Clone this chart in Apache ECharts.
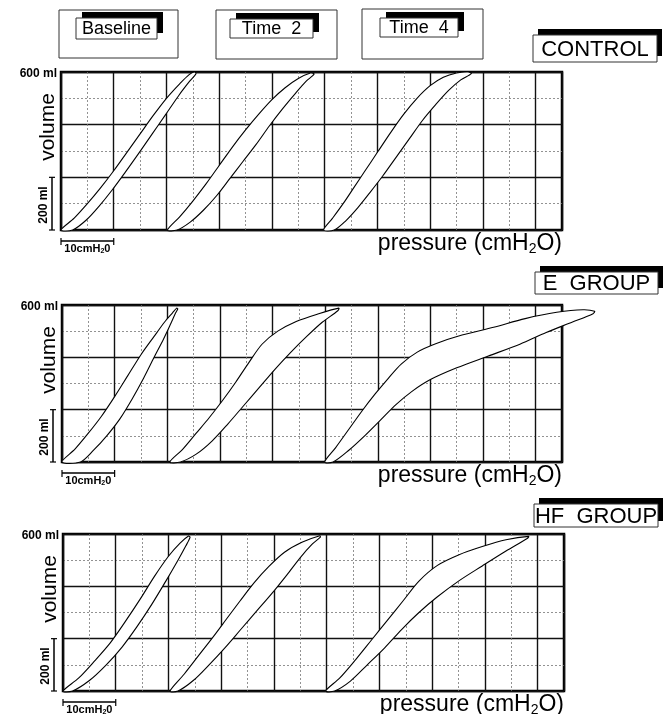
<!DOCTYPE html>
<html><head><meta charset="utf-8">
<script src="https://cdn.jsdelivr.net/npm/echarts@6/dist/echarts.min.js"></script>
<style>html,body{margin:0;padding:0;background:#fff}#c{width:671px;height:714px}</style>
</head><body><div id="c"></div><script>
// ---- labels ----
const groupLabels = ['CONTROL', 'E  GROUP', 'HF  GROUP'];
const timeLabels = ['Baseline', 'Time  2', 'Time  4'];
const pressureMax = 95;   // cmH2O (19 squares of 5)
const volumeMax = 600;    // ml
const pressureMinorStep = 5, pressureMajorStep = 10;
const volumeMajorStep = 200;

// ---- loops: [pressure cmH2O (plotted, incl. offset), volume ml]; each limb listed start -> tip ----
// CONTROL
const ctrlBaseInfl = [[2.2,0],[4.8,38],[7.2,90],[9.7,152],[12.2,220],[14.7,290],[17.2,362],[19.8,437],[22.3,510],[24.4,565],[25.6,593]];
const ctrlBaseDefl = [[0,0],[2.5,45],[5,100],[7.5,160],[10,225],[12.5,295],[15,365],[17.5,435],[20,500],[22.5,555],[24.3,590],[25.3,600]];
const ctrlT2Infl = [[22,0],[24.5,30],[27,75],[29.5,130],[32,195],[34.5,260],[37,325],[39.5,395],[42,460],[44.5,520],[46.5,565],[48,592]];
const ctrlT2Defl = [[20.2,0],[22.5,50],[25,110],[27.5,175],[30,245],[32.5,315],[35,380],[37.5,440],[40,495],[42.5,540],[45,575],[47.3,596]];
const ctrlT4Infl = [[51.8,0],[54,35],[56.3,85],[58.5,140],[61,205],[63.5,275],[66,345],[68.5,415],[71,475],[73.5,530],[75.8,570],[77.8,594]];
const ctrlT4Defl = [[49.8,0],[51.5,45],[53.5,100],[55.5,160],[57.5,220],[60,295],[62.5,370],[65,440],[67.5,500],[70,548],[72.5,580],[75,596],[77.2,600]];
// E GROUP
const eBaseInfl = [[3.5,0],[6,45],[8.5,100],[11,165],[13.3,240],[15.5,320],[17.5,400],[19.3,470],[20.7,530],[21.6,570],[22,585]];
const eBaseDefl = [[0,0],[2.5,50],[5,110],[7.5,175],[10,250],[12.5,330],[15,410],[17.5,480],[19.5,535],[21,570],[21.8,588]];
const eT2Infl = [[22.5,0],[25.5,30],[28.5,80],[31.5,145],[34.5,215],[37.5,285],[40.5,355],[43.5,420],[46.5,480],[49.5,535],[52.4,578]];
const eT2Defl = [[20.5,0],[23,50],[25.5,110],[28,170],[30.5,235],[33,305],[35.5,380],[38,450],[41,500],[44.5,537],[48.5,565],[52.6,588]];
const eT4Infl = [[51.5,0],[54.5,45],[57.5,100],[60.5,160],[63.5,220],[66.5,270],[70,315],[75,360],[81,405],[87,450],[92,495],[97,535],[100.9,567]];
const eT4Defl = [[49.9,0],[52,55],[54.5,125],[57,195],[59.5,260],[62,320],[64.5,375],[67.5,420],[71,452],[76,485],[82,515],[88,548],[94,572],[99,582],[101.2,576]];
// HF GROUP
const hfBaseInfl = [[1.8,0],[5,40],[8.2,100],[11.2,168],[14,245],[16.8,330],[19.5,420],[21.8,500],[23.3,555],[24.1,588]];
const hfBaseDefl = [[0,0],[3,50],[6,115],[9,185],[11.8,265],[14.6,350],[17.4,440],[20,515],[22.2,565],[23.8,592]];
const hfT2Infl = [[21.8,0],[24.7,40],[27.7,100],[30.7,165],[33.7,235],[36.7,305],[39.7,375],[42.5,445],[45,510],[47.2,560],[48.8,588]];
const hfT2Defl = [[20.3,0],[23,65],[25.7,135],[28.4,205],[31,275],[33.6,345],[36.3,415],[39,475],[42,530],[45.3,568],[48.7,593]];
const hfT4Infl = [[51.5,0],[54.5,38],[57.7,100],[61,165],[64.2,235],[67.5,300],[71,360],[75,420],[79.5,478],[84,535],[88.1,584]];
const hfT4Defl = [[49.8,0],[52.5,50],[55.5,120],[58.5,195],[61.5,270],[64.5,345],[67.5,420],[71,480],[75,520],[79.5,552],[84,578],[88.3,591]];

const panelLoops = [
  [[ctrlBaseInfl, ctrlBaseDefl], [ctrlT2Infl, ctrlT2Defl], [ctrlT4Infl, ctrlT4Defl]],
  [[eBaseInfl, eBaseDefl], [eT2Infl, eT2Defl], [eT4Infl, eT4Defl]],
  [[hfBaseInfl, hfBaseDefl], [hfT2Infl, hfT2Defl], [hfT4Infl, hfT4Defl]]
];

// ---- layout ----
const panels = [
  {left: 61, top: 72, w: 501, h: 158, label: {x: 533, y: 35, w: 124, h: 27}},
  {left: 62, top: 305, w: 500, h: 157, label: {x: 535, y: 272, w: 123, h: 22}},
  {left: 63, top: 534, w: 501, h: 157, label: {x: 534, y: 504, w: 124, h: 23}}
];
const headerBoxes = [
  {outer: [59, 10, 119, 48], white: [76, 18, 81, 21]},
  {outer: [216, 10, 121, 49], white: [230, 19, 83, 19]},
  {outer: [362, 9, 121, 50], white: [380, 18, 78, 19]}
];
const FONT = '"Liberation Sans", Arial, sans-serif';

const chart = echarts.init(document.getElementById('c'), null, {renderer: 'canvas'});
const grid = [], xAxis = [], yAxis = [], series = [], graphic = [];

panels.forEach((p, i) => {
  grid.push({left: p.left, top: p.top, width: p.w, height: p.h, show: true,
    borderColor: '#000', borderWidth: 2.5, backgroundColor: 'transparent'});
  const hidden = {axisLine: {show: false}, axisTick: {show: false}, axisLabel: {show: false}};
  xAxis.push(Object.assign({type: 'value', gridIndex: i, min: 0, max: pressureMax, interval: pressureMinorStep,
    splitLine: {show: true, lineStyle: {color: '#777', width: 0.8, type: [2, 2]}}}, hidden));
  xAxis.push(Object.assign({type: 'value', gridIndex: i, min: 0, max: pressureMax, interval: pressureMajorStep,
    splitLine: {show: true, lineStyle: {color: '#111', width: 1.4}}}, hidden));
  yAxis.push(Object.assign({type: 'value', gridIndex: i, min: 0, max: volumeMax, interval: volumeMajorStep,
    splitLine: {show: true, lineStyle: {color: '#111', width: 1.4}},
    minorTick: {show: false, splitNumber: 2},
    minorSplitLine: {show: true, lineStyle: {color: '#777', width: 0.8, type: [2, 2]}}}, hidden));
  const loops = panelLoops[i];
  series.push({
    type: 'custom', xAxisIndex: 2 * i, yAxisIndex: i, silent: true, clip: false, z: 5,
    data: loops.map((l, k) => [l[0][0][0], l[0][0][1], k]),
    renderItem: function (params, api) {
      const l = loops[params.dataIndex];
      const pts = l[0].concat(l[1].slice().reverse()).map(pt => api.coord(pt));
      return {type: 'polygon', shape: {points: pts, smooth: 0.3},
        style: {fill: '#fff', stroke: '#000', lineWidth: 1.1}};
    }
  });

  const bottom = p.top + p.h;
  // 600 ml
  graphic.push({type: 'text', x: p.left - 4, y: p.top + 2, style: {text: '600 ml', fill: '#000',
    font: 'bold 12px ' + FONT, align: 'right', verticalAlign: 'middle'}});
  // 200 ml rotated + bracket
  graphic.push({type: 'text', x: p.left - 17, y: bottom - 25, rotation: Math.PI / 2, style: {text: '200 ml', fill: '#000',
    font: 'bold 12px ' + FONT, align: 'center', verticalAlign: 'middle'}});
  const bx = p.left - 9, bh = p.h * volumeMajorStep / volumeMax;
  graphic.push({type: 'polyline', shape: {points: [[bx, bottom - bh], [bx, bottom]]}, style: {stroke: '#000', lineWidth: 1.5}});
  graphic.push({type: 'polyline', shape: {points: [[bx - 3, bottom - bh], [bx + 3, bottom - bh]]}, style: {stroke: '#000', lineWidth: 1.2}});
  graphic.push({type: 'polyline', shape: {points: [[bx - 3, bottom], [bx + 3, bottom]]}, style: {stroke: '#000', lineWidth: 1.2}});
  // volume
  graphic.push({type: 'text', x: p.left - 13, y: p.top + 55, rotation: Math.PI / 2, style: {text: 'volume', fill: '#000',
    font: '21px ' + FONT, align: 'center', verticalAlign: 'middle'}});
  // scale bar 10 cmH2O
  const sw = p.w * 10 / pressureMax, sy = bottom + 11;
  graphic.push({type: 'polyline', shape: {points: [[p.left, sy], [p.left + sw, sy]]}, style: {stroke: '#000', lineWidth: 1.3}});
  graphic.push({type: 'polyline', shape: {points: [[p.left, sy - 3], [p.left, sy + 4]]}, style: {stroke: '#000', lineWidth: 1.2}});
  graphic.push({type: 'polyline', shape: {points: [[p.left + sw, sy - 3], [p.left + sw, sy + 4]]}, style: {stroke: '#000', lineWidth: 1.2}});
  graphic.push({type: 'text', x: p.left + sw / 2, y: sy + 8, style: {
    text: '{a|10cmH}{s|2}{a|0}', align: 'center', verticalAlign: 'middle',
    rich: {a: {font: 'bold 11px ' + FONT, fill: '#000'}, s: {font: 'bold 7px ' + FONT, fill: '#000', padding: [5, 0, 0, 0]}}}});
  // pressure label
  graphic.push({type: 'text', x: p.left + p.w, y: bottom + 14, style: {
    text: '{a|pressure (cmH}{s|2}{a|O)}', align: 'right', verticalAlign: 'middle',
    rich: {a: {font: '23px ' + FONT, fill: '#000'}, s: {font: '14px ' + FONT, fill: '#000', padding: [10, 0, 0, 0]}}}});
  // group label with black shadow
  const L = p.label;
  graphic.push({type: 'rect', shape: {x: L.x + 5, y: L.y - 6, width: L.w, height: L.h}, style: {fill: '#000'}});
  graphic.push({type: 'rect', shape: {x: L.x, y: L.y, width: L.w, height: L.h}, style: {fill: '#fff', stroke: '#333', lineWidth: 1}});
  graphic.push({type: 'text', x: L.x + L.w / 2, y: L.y + L.h / 2 + 1, style: {text: groupLabels[i], fill: '#000',
    font: '22px ' + FONT, align: 'center', verticalAlign: 'middle'}});
});

headerBoxes.forEach((b, k) => {
  graphic.push({type: 'rect', shape: {x: b.outer[0], y: b.outer[1], width: b.outer[2], height: b.outer[3]},
    style: {fill: 'none', stroke: '#333', lineWidth: 1}});
  const W = b.white;
  graphic.push({type: 'rect', shape: {x: W[0] + 6, y: W[1] - 6, width: W[2], height: W[3]}, style: {fill: '#000'}});
  graphic.push({type: 'rect', shape: {x: W[0], y: W[1], width: W[2], height: W[3]}, style: {fill: '#fff', stroke: '#333', lineWidth: 1}});
  graphic.push({type: 'text', x: W[0] + W[2] / 2, y: W[1] + W[3] / 2 + 1, style: {text: timeLabels[k], fill: '#000',
    font: '18px ' + FONT, align: 'center', verticalAlign: 'middle'}});
});

chart.setOption({
  animation: false,
  backgroundColor: '#fff',
  grid: grid, xAxis: xAxis, yAxis: yAxis, series: series,
  graphic: {elements: graphic}
});
</script></body></html>
